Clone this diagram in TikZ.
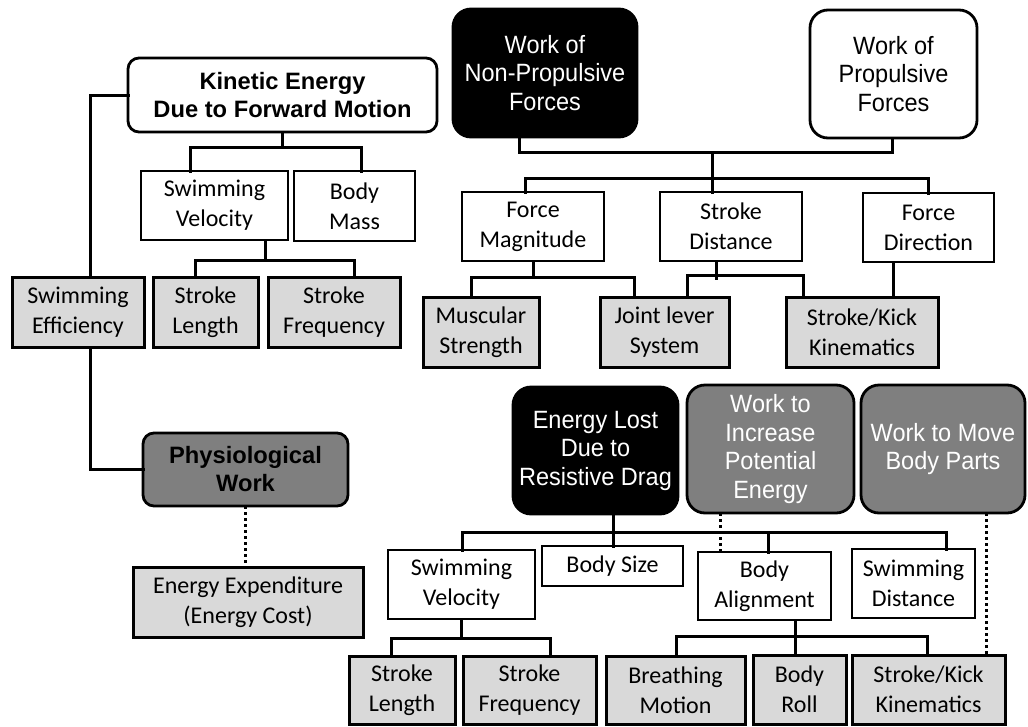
\documentclass[tikz,border=0pt]{standalone}
\usepackage{fontspec}
\setmainfont{Carlito}
\newfontfamily\arialfont{Liberation Sans}
\newfontfamily\narrowfont{Liberation Sans}[FakeStretch=0.94]
\definecolor{lightbox}{HTML}{D9D9D9}
\definecolor{darkbox}{HTML}{7F7F7F}
\newcommand\mkbox[7]{\node[#2, minimum width={(#5-#3)*1pt}, minimum height={(#6-#4)*1pt}] (#1) at ({(#3+#5)/2},{(#4+#6)/2}) {#7};}
\tikzset{
  base/.style={inner sep=0pt, outer sep=0pt, align=center, draw=black},
  calfont/.style={font=\fontsize{24}{30}\selectfont},
  whitebox/.style={base, calfont, line width=1.7pt, fill=white},
  graybox/.style={base, calfont, line width=3pt, fill=lightbox},
  boldtitle/.style={base, line width=2.8pt, rounded corners=11pt, font=\arialfont\bfseries\fontsize{23.7}{28}\selectfont},
  narrowtitle/.style={base, line width=2.8pt, rounded corners=18pt, font=\narrowfont\fontsize{25}{28.5}\selectfont},
  conn/.style={line width=3pt, line cap=rect},
  dotconn/.style={line width=3pt, dash pattern=on 3pt off 3pt},
}
\begin{document}
\begin{tikzpicture}[x=1pt,y=-1pt]
\fill[white] (0,0) rectangle (1028,726);
\useasboundingbox (0,0) rectangle (1028,726);

% top-left block
\mkbox{kin}{boldtitle, fill=white}{128}{58}{437}{132}{Kinetic Energy\\Due to Forward Motion}
\mkbox{sva}{whitebox}{141}{171}{288}{240}{Swimming\\Velocity}
\mkbox{bm}{whitebox}{294}{171}{415}{241}{Body\\Mass}
\mkbox{se}{graybox}{12}{277}{144}{347}{Swimming\\Efficiency}
\mkbox{sla}{graybox}{153}{277}{258}{347}{Stroke\\Length}
\mkbox{sfa}{graybox}{268}{277}{400}{347}{Stroke\\Frequency}

% top-right block
\mkbox{nonprop}{narrowtitle, fill=black, text=white}{453}{9}{637}{137}{Work of\\Non-Propulsive\\Forces}
\mkbox{prop}{narrowtitle, fill=white}{810}{10}{977}{138}{Work of\\Propulsive\\Forces}
\mkbox{fm}{whitebox}{462}{192}{604}{261}{Force\\Magnitude}
\mkbox{sd}{whitebox}{660}{192}{802}{261}{Stroke\\Distance}
\mkbox{fd}{whitebox}{863}{193}{994}{262}{Force\\Direction}
\mkbox{ms}{graybox}{423}{297}{539}{367}{Muscular\\Strength}
\mkbox{jl}{graybox}{600}{297}{729}{367}{Joint lever\\System}
\mkbox{ska}{graybox}{786}{297}{938}{367}{Stroke/Kick\\Kinematics}

% bottom-left block
\mkbox{phys}{boldtitle, fill=darkbox}{143}{433}{348}{506}{Physiological\\Work}
\mkbox{ee}{graybox}{133}{567}{363}{637}{Energy Expenditure\\(Energy Cost)}

% bottom-right block
\mkbox{el}{narrowtitle, fill=black, text=white}{513}{387}{678}{514}{Energy Lost\\Due to\\Resistive Drag}
\mkbox{wip}{narrowtitle, fill=darkbox, text=white}{687}{385}{854}{513}{Work to\\Increase\\Potential\\Energy}
\mkbox{wmb}{narrowtitle, fill=darkbox, text=white}{861}{385}{1025}{513}{Work to Move\\Body Parts}
\mkbox{svb}{whitebox}{388}{550}{535}{619}{Swimming\\Velocity}
\mkbox{bs}{whitebox}{542}{546}{683}{586}{Body Size}
\mkbox{ba}{whitebox}{698}{552}{831}{620}{Body\\Alignment}
\mkbox{sdist}{whitebox}{852}{549}{975}{618}{Swimming\\Distance}
\mkbox{slb}{graybox}{349}{656}{455}{724}{Stroke\\Length}
\mkbox{sfb}{graybox}{463}{656}{596}{724}{Stroke\\Frequency}
\mkbox{bmo}{graybox}{606}{656}{745}{724}{Breathing\\Motion}
\mkbox{br}{graybox}{753}{655}{846}{724}{Body\\Roll}
\mkbox{skb}{graybox}{852}{655}{1005}{724}{Stroke/Kick\\Kinematics}

% ---- connectors ----
% kinetic energy -> swimming efficiency -> physiological work
\coordinate (c1) at (90,95);
\draw[conn] (kin.west) -- (c1) -- (c1 |- se.north);
\draw[conn] (c1 |- se.south) |- (phys.west);

% kinetic energy -> swimming velocity, body mass
\coordinate (b1) at (190,147);
\coordinate (b2) at (361,147);
\draw[conn] (kin.south) -- (kin.south |- b1);
\draw[conn] (b1 |- sva.north) -- (b1) -- (b2) -- (b2 |- bm.north);

% swimming velocity -> stroke length, stroke frequency
\coordinate (b3) at (195,260);
\coordinate (b4) at (354,260);
\coordinate (b5) at (265,260);
\draw[conn] (b5 |- sva.south) -- (b5);
\draw[conn] (b3 |- sla.north) -- (b3) -- (b4) -- (b4 |- sfa.north);

% work of forces -> force magnitude, stroke distance, force direction
\coordinate (t1) at (519,152);
\coordinate (t2) at (892,152);
\coordinate (t3) at (712,152);
\coordinate (t4) at (525,178);
\coordinate (t5) at (928,178);
\draw[conn] (t1 |- nonprop.south) -- (t1) -- (t2) -- (t2 |- prop.south);
\draw[conn] (t3) -- (t3 |- sd.north);
\draw[conn] (t4 |- fm.north) -- (t4) -- (t5) -- (t5 |- fd.north);

% force magnitude -> muscular strength, joint lever
\coordinate (f1) at (471,277);
\coordinate (f2) at (634,277);
\draw[conn] (fm.south) -- (fm.south |- f1);
\draw[conn] (f1 |- ms.north) -- (f1) -- (f2) -- (f2 |- jl.north);

% stroke distance -> joint lever, stroke/kick
\coordinate (g1) at (687,275);
\coordinate (g2) at (803,275);
\coordinate (g3) at (716,278);
\draw[conn] (g3 |- sd.south) -- (g3);
\draw[conn] (g1 |- jl.north) -- (g1) -- (g2) -- (g2 |- ska.north);

% force direction -> stroke/kick
\coordinate (h1) at (893,265);
\draw[conn] (h1 |- fd.south) -- (h1 |- ska.north);

% physiological work -> energy expenditure
\draw[dotconn] (phys.south) -- (phys.south |- ee.north);

% energy lost -> children
\coordinate (k0) at (613,532);
\coordinate (k1) at (462,532);
\coordinate (k2) at (946,532);
\coordinate (k3) at (768,532);
\draw[conn] (k0 |- el.south) -- (k0 |- bs.north);
\draw[conn] (k1 |- svb.north) -- (k1) -- (k2) -- (k2 |- sdist.north);
\draw[conn] (k3) -- (k3 |- ba.north);

% dotted links
\coordinate (d1) at (720,513);
\coordinate (d2) at (986,513);
\draw[dotconn] (d1 |- wip.south) -- (d1 |- ba.north);
\draw[dotconn] (d2 |- wmb.south) -- (d2 |- skb.north);

% swimming velocity -> stroke length, stroke frequency (bottom)
\coordinate (m1) at (391,638);
\coordinate (m2) at (550,638);
\draw[conn] (svb.south) -- (svb.south |- m1);
\draw[conn] (m1 |- slb.north) -- (m1) -- (m2) -- (m2 |- sfb.north);

% body alignment -> breathing, roll, stroke/kick
\coordinate (n0) at (795,636);
\coordinate (n1) at (676,636);
\coordinate (n2) at (927,636);
\draw[conn] (n0 |- ba.south) -- (n0 |- br.north);
\draw[conn] (n1 |- bmo.north) -- (n1) -- (n2) -- (n2 |- skb.north);
\end{tikzpicture}
\end{document}
